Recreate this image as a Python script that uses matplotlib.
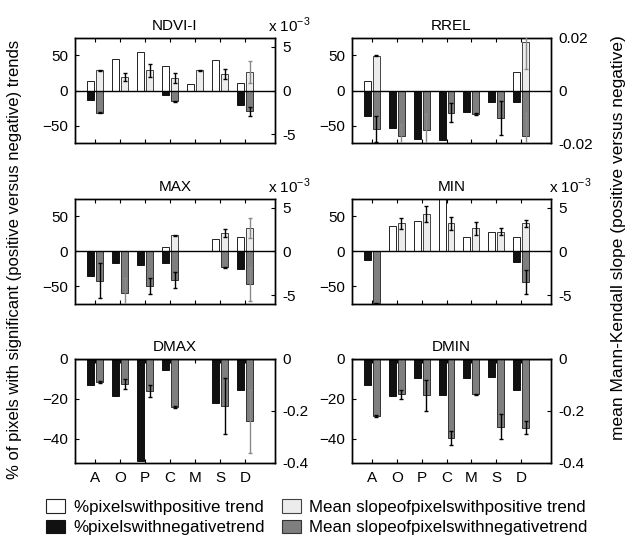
import matplotlib
matplotlib.use("Agg")
import matplotlib.pyplot as plt
import numpy as np
from matplotlib.patches import Patch

plt.rcParams["font.family"] = ["Liberation Sans", "DejaVu Sans"]
plt.rcParams["mathtext.fontset"] = "custom"
plt.rcParams["mathtext.rm"] = "Liberation Sans"

cats = ["A", "O", "P", "C", "M", "S", "D"]

# NDVI-I (slopes in units of 1e-3)
ndvi_pos_pct = [13, 45, 55, 35, 10, 43, 11]
ndvi_neg_pct = [-13, 0, 0, -6, 0, 0, -21]
ndvi_pos_slope = [2.29, 1.56, 2.29, 1.45, 2.29, 1.94, 2.13]
ndvi_pos_err = [0.05, 0.45, 0.76, 0.57, 0.05, 0.57, 1.22]
ndvi_neg_slope = [-2.55, 0, 0, -1.22, 0, 0, -2.36]
ndvi_neg_err = [0.05, 0, 0, 0.05, 0, 0, 0.5]

# RREL
rrel_pos_pct = [14, 0, 0, 0, 0, 0, 27]
rrel_neg_pct = [-36, -53, -69, -70, -30, -16, -16]
rrel_pos_slope = [0.0133, 0, 0, 0, 0, 0, 0.0185]
rrel_pos_err = [0.0003, 0, 0, 0, 0, 0, 0.0103]
rrel_neg_slope = [-0.0147, -0.0173, -0.0151, -0.0084, -0.0090, -0.0106, -0.0173]
rrel_neg_err = [0.0048, 0.0045, 0.0060, 0.0036, 0.0003, 0.0065, 0.0086]

# MAX (slopes in units of 1e-3)
max_pos_pct = [0, 0, 0, 6, 0, 18, 21]
max_neg_pct = [-35, -17, -19, -16, 0, 0, -25]
max_pos_slope = [0, 0, 0, 1.87, 0, 2.10, 2.67]
max_pos_err = [0, 0, 0, 0.05, 0, 0.45, 1.15]
max_neg_slope = [-3.32, -4.69, -3.93, -3.24, 0, -1.79, -3.74]
max_neg_err = [1.95, 1.64, 0.95, 0.90, 0, 0.05, 1.95]

# MIN (slopes in units of 1e-3)
min_pos_pct = [0, 36, 44, 80, 20, 28, 21]
min_neg_pct = [-12, 0, 0, 0, 0, 0, -15]
min_pos_slope = [0, 3.2, 4.3, 3.2, 2.65, 2.27, 3.2]
min_pos_err = [0, 0.64, 0.95, 0.76, 0.76, 0.38, 0.45]
min_neg_slope = [-5.9, 0, 0, 0, 0, 0, -3.47]
min_neg_err = [0.05, 0, 0, 0, 0, 0, 1.4]

# DMAX
dmax_neg_pct = [-12.8, -18.3, -51, -5.7, 0, -22, -15.3]
dmax_neg_slope = [-0.088, -0.096, -0.124, -0.185, 0, -0.182, -0.240]
dmax_neg_err = [0.003, 0.021, 0.024, 0.003, 0, 0.108, 0.12]

# DMIN
dmin_neg_pct = [-12.8, -18.3, -9.5, -17.8, -9.5, -9.2, -15.3]
dmin_neg_slope = [-0.219, -0.136, -0.140, -0.302, -0.136, -0.260, -0.264]
dmin_neg_err = [0.003, 0.017, 0.06, 0.027, 0.003, 0.048, 0.025]

zeros = [0] * 7

panels = [
    dict(title="NDVI-I", pos_pct=ndvi_pos_pct, neg_pct=ndvi_neg_pct,
         pos_slope=ndvi_pos_slope, pos_err=ndvi_pos_err,
         neg_slope=ndvi_neg_slope, neg_err=ndvi_neg_err,
         ylim=(-75, 75), yticks=[-50, 0, 50],
         rlim=(-6, 6), rticks=[-5, 0, 5], rlabels=["-5", "0", "5"], exp=True,
         grey_pos=["D"], grey_neg=[]),
    dict(title="RREL", pos_pct=rrel_pos_pct, neg_pct=rrel_neg_pct,
         pos_slope=rrel_pos_slope, pos_err=rrel_pos_err,
         neg_slope=rrel_neg_slope, neg_err=rrel_neg_err,
         ylim=(-75, 75), yticks=[-50, 0, 50],
         rlim=(-0.02, 0.02), rticks=[-0.02, 0, 0.02], rlabels=["-0.02", "0", "0.02"], exp=False,
         grey_pos=["D"], grey_neg=["O", "P", "D"]),
    dict(title="MAX", pos_pct=max_pos_pct, neg_pct=max_neg_pct,
         pos_slope=max_pos_slope, pos_err=max_pos_err,
         neg_slope=max_neg_slope, neg_err=max_neg_err,
         ylim=(-75, 75), yticks=[-50, 0, 50],
         rlim=(-6, 6), rticks=[-5, 0, 5], rlabels=["-5", "0", "5"], exp=True,
         grey_pos=["D"], grey_neg=["O", "D"]),
    dict(title="MIN", pos_pct=min_pos_pct, neg_pct=min_neg_pct,
         pos_slope=min_pos_slope, pos_err=min_pos_err,
         neg_slope=min_neg_slope, neg_err=min_neg_err,
         ylim=(-75, 75), yticks=[-50, 0, 50],
         rlim=(-6, 6), rticks=[-5, 0, 5], rlabels=["-5", "0", "5"], exp=True,
         grey_pos=[], grey_neg=[]),
    dict(title="DMAX", pos_pct=zeros, neg_pct=dmax_neg_pct,
         pos_slope=zeros, pos_err=zeros,
         neg_slope=dmax_neg_slope, neg_err=dmax_neg_err,
         ylim=(-52, 0), yticks=[-40, -20, 0],
         rlim=(-0.4, 0), rticks=[-0.4, -0.2, 0], rlabels=["-0.4", "-0.2", "0"], exp=False,
         grey_pos=[], grey_neg=["D"]),
    dict(title="DMIN", pos_pct=zeros, neg_pct=dmin_neg_pct,
         pos_slope=zeros, pos_err=zeros,
         neg_slope=dmin_neg_slope, neg_err=dmin_neg_err,
         ylim=(-52, 0), yticks=[-40, -20, 0],
         rlim=(-0.4, 0), rticks=[-0.4, -0.2, 0], rlabels=["-0.4", "-0.2", "0"], exp=False,
         grey_pos=[], grey_neg=[]),
]

W, H = 633, 536
col_x = [75, 352]
col_w = [200, 199]
exp_x = [0.965, 0.99]
row_y = [(38, 143), (199, 304), (359, 463)]

fig = plt.figure(figsize=(W / 100, H / 100), dpi=100)

x = np.arange(1, len(cats) + 1)
off, bw = 0.18, 0.28
c_white, c_black, c_light, c_dark = "white", "#111111", "#ececec", "#7f7f7f"
fs_tick = 11


def draw_err(ax2, xs, vals, errs, grey_cats):
    for xi, c, v, e in zip(xs, cats, vals, errs):
        if v == 0:
            continue
        col = "#8a8a8a" if c in grey_cats else "black"
        ax2.errorbar(xi, v, yerr=e, fmt="none", ecolor=col, elinewidth=1.0,
                     capsize=1.5, capthick=1.0, zorder=5)


for i, p in enumerate(panels):
    r, c = divmod(i, 2)
    top, bot = row_y[r]
    rect = [col_x[c] / W, 1 - bot / H, col_w[c] / W, (bot - top) / H]
    ax = fig.add_axes(rect)
    ax.bar(x - off, p["pos_pct"], bw, color=c_white, edgecolor="#222222", lw=0.7)
    ax.bar(x - off, p["neg_pct"], bw, color=c_black, edgecolor="#111111", lw=0.7)
    ax.set_xlim(0.2, 8.2)
    ax.set_ylim(*p["ylim"])
    ax.set_yticks(p["yticks"])
    ax.set_xticks(x)
    ax.set_xticklabels(cats if r == 2 else [])
    ax.set_title(p["title"], fontsize=11, pad=6)

    ax2 = ax.twinx()
    ax2.bar(x + off, p["pos_slope"], bw, color=c_light, edgecolor="#444444", lw=0.7)
    ax2.bar(x + off, p["neg_slope"], bw, color=c_dark, edgecolor="#333333", lw=0.7)
    draw_err(ax2, x + off, p["pos_slope"], p["pos_err"], p["grey_pos"])
    draw_err(ax2, x + off, p["neg_slope"], p["neg_err"], p["grey_neg"])
    ax2.axhline(0, color="black", lw=1.0, zorder=6)
    ax2.set_ylim(*p["rlim"])
    ax2.set_yticks(p["rticks"])
    ax2.set_yticklabels(p["rlabels"])
    if p["exp"]:
        ax2.text(exp_x[c], 1.03, r"x 10$^{\mathregular{-3}}$", transform=ax2.transAxes,
                 ha="left", va="bottom", fontsize=11)

    ax.tick_params(axis="x", direction="in", top=True, bottom=True, length=3,
                   labelsize=fs_tick, pad=6)
    ax.tick_params(axis="y", direction="in", left=True, right=False, length=3,
                   labelsize=fs_tick, pad=5)
    ax2.tick_params(axis="y", direction="in", right=True, left=False, length=3,
                    labelsize=fs_tick, pad=5)
    for a in (ax, ax2):
        for s in a.spines.values():
            s.set_linewidth(1.0)

fig.text(15 / W, 1 - 259 / H,
         "% of pixels with significant (positive versus negative) trends",
         rotation=90, ha="center", va="center", fontsize=12)
fig.text(618 / W, 1 - 238 / H,
         "mean Mann-Kendall slope (positive versus negative)",
         rotation=90, ha="center", va="center", fontsize=12.5)

handles = [
    Patch(facecolor=c_white, edgecolor="#222222", lw=0.8),
    Patch(facecolor=c_black, edgecolor="#111111", lw=0.8),
    Patch(facecolor=c_light, edgecolor="#444444", lw=0.8),
    Patch(facecolor=c_dark, edgecolor="#333333", lw=0.8),
]
labels = [
    "%pixelswithpositive trend",
    "%pixelswithnegativetrend",
    "Mean slopeofpixelswithpositive trend",
    "Mean slopeofpixelswithnegativetrend",
]
fig.legend(handles, labels, ncol=2, loc="upper left",
           bbox_to_anchor=(38 / W, 1 - 491 / H), frameon=False, fontsize=12.2,
           borderpad=0, handlelength=1.1, handleheight=0.82, handletextpad=0.5,
           labelspacing=0.3, columnspacing=1.0)

fig.savefig("out.png", dpi=100)
